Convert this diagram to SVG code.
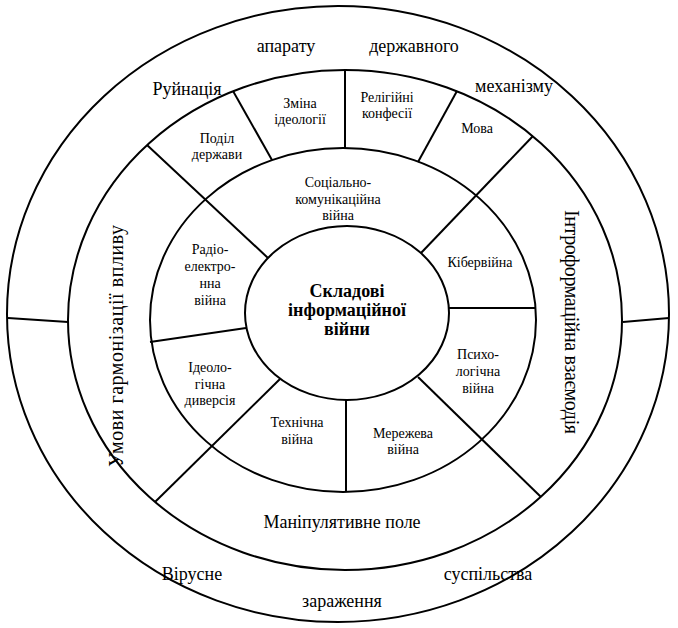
<svg xmlns="http://www.w3.org/2000/svg" width="678" height="628" viewBox="0 0 678 628" font-family="'Liberation Serif', 'Times New Roman', serif">
<style>
.ring{fill:none;stroke:#000;stroke-width:2}
.div{stroke:#000;stroke-width:2;fill:none}
text{font-family:'Liberation Serif','Times New Roman',serif;fill:#000;text-anchor:middle}
.big{font-size:18px}
.rot{font-size:20px}
.sm{font-size:14px}
.ctr{font-size:18px;font-weight:bold}
</style>
<rect width="678" height="628" fill="#fff"/>
<g id="rings">
<ellipse class="ring" cx="338" cy="314" rx="331" ry="308"/>
<ellipse class="ring" cx="345" cy="320" rx="277" ry="250"/>
<ellipse class="ring" cx="343" cy="320" rx="193" ry="172"/>
</g>
<g id="connectors">
<line class="div" x1="8" y1="318" x2="68" y2="322"/>
<line class="div" x1="623" y1="322" x2="669" y2="318"/>
<line class="div" x1="345" y1="70" x2="345" y2="148"/>
<line class="div" x1="233" y1="91" x2="272" y2="160"/>
<line class="div" x1="457" y1="91" x2="418" y2="162"/>
<line class="div" x1="533" y1="136" x2="421" y2="253"/>
<line class="div" x1="147" y1="145" x2="268" y2="258"/>
<line class="div" x1="150" y1="342" x2="246" y2="328"/>
<line class="div" x1="155" y1="502" x2="280" y2="379"/>
<line class="div" x1="418" y1="377" x2="541" y2="497"/>
<line class="div" x1="346" y1="400" x2="346" y2="491"/>
<line class="div" x1="448" y1="308" x2="536" y2="308"/>
</g>
<g id="outer-labels">
<text class="big" x="286" y="52">апарату</text>
<text class="big" x="414" y="52">державного</text>
<text class="big" x="187" y="95">Руйнація</text>
<text class="big" x="514" y="92">механізму</text>
<text class="big" x="192" y="580">Вірусне</text>
<text class="big" x="488" y="580">суспільства</text>
<text class="big" x="342" y="607">зараження</text>
</g>
<g id="middle-labels">
<text class="big" x="342" y="528">Маніпулятивне поле</text>
<text class="rot" transform="translate(123,346) rotate(-90)" textLength="242" lengthAdjust="spacing">Умови гармонізації впливу</text>
<text class="rot" transform="translate(565,322) rotate(90)" textLength="224" lengthAdjust="spacing">Інтроформаційна взаємодія</text>
</g>
<g id="node-podil"><text class="sm" x="217" y="143">Поділ</text><text class="sm" x="217" y="159">держави</text></g>
<g id="node-zmina"><text class="sm" x="300" y="108">Зміна</text><text class="sm" x="300" y="124">ідеології</text></g>
<g id="node-religii"><text class="sm" x="387" y="102">Релігійні</text><text class="sm" x="387" y="118">конфесії</text></g>
<g id="node-mova"><text class="sm" x="477" y="133">Мова</text></g>
<g id="node-social"><text class="sm" x="338" y="187">Соціально-</text><text class="sm" x="338" y="204">комунікаційна</text><text class="sm" x="338" y="220">війна</text></g>
<g id="node-kiber"><text class="sm" x="480" y="267">Кібервійна</text></g>
<g id="node-psycho"><text class="sm" x="478" y="359">Психо-</text><text class="sm" x="478" y="376">логічна</text><text class="sm" x="478" y="393">війна</text></g>
<g id="node-merezheva"><text class="sm" x="403" y="438">Мережева</text><text class="sm" x="403" y="454">війна</text></g>
<g id="node-tekhnichna"><text class="sm" x="297" y="427">Технічна</text><text class="sm" x="297" y="444">війна</text></g>
<g id="node-ideol"><text class="sm" x="210" y="372">Ідеоло-</text><text class="sm" x="210" y="389">гічна</text><text class="sm" x="210" y="405">диверсія</text></g>
<g id="node-radio"><text class="sm" x="210" y="254">Радіо-</text><text class="sm" x="210" y="271">електро-</text><text class="sm" x="210" y="288">нна</text><text class="sm" x="210" y="305">війна</text></g>
<g id="node-center">
<ellipse class="ring" cx="347" cy="313" rx="102" ry="87"/>
<text class="ctr" x="347" y="297">Складові</text>
<text class="ctr" x="347" y="316">інформаційної</text>
<text class="ctr" x="347" y="335">війни</text>
</g>
</svg>
